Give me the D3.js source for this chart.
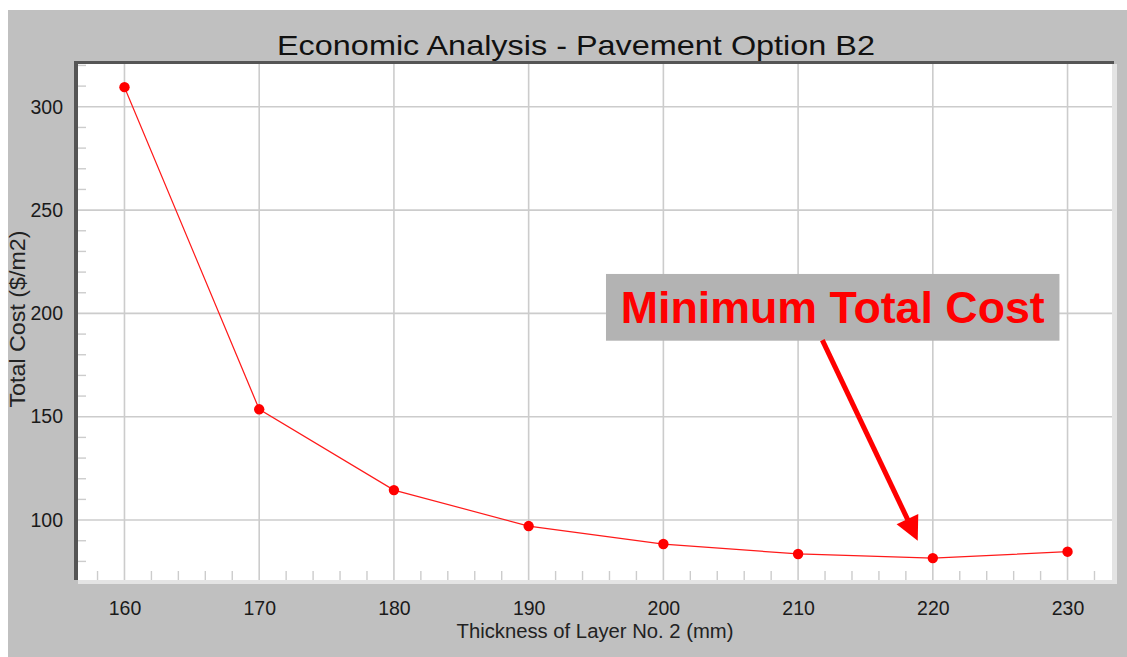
<!DOCTYPE html>
<html>
<head>
<meta charset="utf-8">
<script src="https://cdn.jsdelivr.net/npm/d3@7/dist/d3.min.js"></script>
<style>
html,body{margin:0;padding:0;background:#fff;}
svg{display:block;}
text{font-family:"Liberation Sans",Arial,sans-serif;}
</style>
</head>
<body>
<svg id="chart" width="1127" height="657"></svg>
<script>
// ---- data ----
const thickness = [160, 170, 180, 190, 200, 210, 220, 230];
const totalCost = [309.5, 153.6, 114.5, 97.1, 88.4, 83.6, 81.6, 84.7];
const xTicks = [160, 170, 180, 190, 200, 210, 220, 230];
const yTicks = [100, 150, 200, 250, 300];
const titleText = "Economic Analysis - Pavement Option B2";
const xLabel = "Thickness of Layer No. 2 (mm)";
const yLabel = "Total Cost ($/m2)";
const noteText = "Minimum Total Cost";
// annotation in data coordinates: box corners and arrow start / tip
const noteBox = [[195.74, 219.1], [229.4, 186.8]];
const arrowFrom = [211.8, 187.1];
const arrowTip = [218.88, 90.0];

const W = 1127, H = 657;
const plot = {l: 78, t: 64, r: 1112, b: 580};
const svg = d3.select("#chart");

const x = d3.scaleLinear().domain([156.55, 233.3]).range([plot.l, plot.r]);
const y = d3.scaleLinear().domain([71, 320.7]).range([plot.b, plot.t]);

// background panel
svg.append("rect").attr("x", 0).attr("y", 0).attr("width", W).attr("height", H).attr("fill", "#ffffff");
svg.append("rect").attr("x", 8).attr("y", 10).attr("width", W - 8).attr("height", H - 10).attr("fill", "#c0c0c0");

// plot frame: bevels
svg.append("rect").attr("x", plot.l).attr("y", plot.t).attr("width", plot.r - plot.l + 5).attr("height", plot.b - plot.t + 4).attr("fill", "#e4e4e4");
svg.append("rect").attr("x", plot.l - 4).attr("y", plot.t - 3).attr("width", plot.r - plot.l + 6).attr("height", 3).attr("fill", "#555555");
svg.append("rect").attr("x", plot.l - 4).attr("y", plot.t - 3).attr("width", 4).attr("height", plot.b - plot.t + 3).attr("fill", "#555555");
svg.append("rect").attr("x", plot.l).attr("y", plot.t).attr("width", plot.r - plot.l).attr("height", plot.b - plot.t).attr("fill", "#ffffff");

const gridColor = "#cccccc";
// grid lines
svg.append("g").selectAll("line").data(xTicks).join("line")
  .attr("x1", d => x(d)).attr("x2", d => x(d)).attr("y1", plot.t).attr("y2", plot.b)
  .attr("stroke", gridColor).attr("stroke-width", 1.6);
svg.append("g").selectAll("line").data(yTicks).join("line")
  .attr("x1", plot.l).attr("x2", plot.r).attr("y1", d => y(d)).attr("y2", d => y(d))
  .attr("stroke", gridColor).attr("stroke-width", 1.6);

// minor ticks
const xMinor = d3.range(158, 233, 2).filter(v => v % 10 !== 0);
const yMinor = d3.range(80, 321, 10).filter(v => v % 50 !== 0);
svg.append("g").selectAll("line").data(xMinor).join("line")
  .attr("x1", d => x(d)).attr("x2", d => x(d)).attr("y1", plot.b - 9).attr("y2", plot.b)
  .attr("stroke", gridColor).attr("stroke-width", 1.4);
svg.append("g").selectAll("line").data(yMinor).join("line")
  .attr("x1", plot.l).attr("x2", plot.l + 8).attr("y1", d => y(d)).attr("y2", d => y(d))
  .attr("stroke", gridColor).attr("stroke-width", 1.4);

// axes via d3 (labels only)
const xAxis = svg.append("g").attr("transform", `translate(0,${plot.b + 4})`)
  .call(d3.axisBottom(x).tickValues(xTicks).tickSize(0).tickPadding(17).tickFormat(d3.format("d")));
const yAxis = svg.append("g").attr("transform", `translate(${plot.l - 4},0)`)
  .call(d3.axisLeft(y).tickValues(yTicks).tickSize(0).tickPadding(11).tickFormat(d3.format("d")));
[xAxis, yAxis].forEach(a => {
  a.select(".domain").remove();
  a.selectAll("text").attr("fill", "#1a1a1a").style("font-size", "19.5px")
    .style("font-family", '"Liberation Sans", Arial, sans-serif');
});
xAxis.selectAll("text").attr("dy", "0.71em");

// series line + points
const line = d3.line().x((d, i) => x(thickness[i])).y(d => y(d));
svg.append("path").datum(totalCost).attr("d", line)
  .attr("fill", "none").attr("stroke", "#ff1a1a").attr("stroke-width", 1.2);
svg.append("g").selectAll("circle").data(totalCost).join("circle")
  .attr("cx", (d, i) => x(thickness[i])).attr("cy", d => y(d)).attr("r", 5.2)
  .attr("fill", "#ff0000");

// title and axis labels
svg.append("text").attr("x", 576).attr("y", 55).attr("text-anchor", "middle")
  .attr("textLength", 598).attr("lengthAdjust", "spacingAndGlyphs")
  .attr("fill", "#111").style("font-size", "28px").text(titleText);
svg.append("text").attr("x", 595).attr("y", 638).attr("text-anchor", "middle")
  .attr("textLength", 277).attr("lengthAdjust", "spacingAndGlyphs")
  .attr("fill", "#222").style("font-size", "20px").text(xLabel);
svg.append("text").attr("transform", "translate(25,319) rotate(-90)").attr("text-anchor", "middle")
  .attr("textLength", 177).attr("lengthAdjust", "spacingAndGlyphs")
  .attr("fill", "#222").style("font-size", "22.5px").text(yLabel);

// annotation box
const bx0 = x(noteBox[0][0]), by0 = y(noteBox[0][1]), bx1 = x(noteBox[1][0]), by1 = y(noteBox[1][1]);
svg.append("rect").attr("x", bx0).attr("y", by0).attr("width", bx1 - bx0).attr("height", by1 - by0).attr("fill", "#b3b3b3");
svg.append("text").attr("x", (bx0 + bx1) / 2).attr("y", by0 + 49).attr("text-anchor", "middle")
  .attr("textLength", 424).attr("lengthAdjust", "spacingAndGlyphs")
  .attr("fill", "#ff0000").style("font-size", "44px").style("font-weight", "bold").text(noteText);

// arrow
const ax0 = x(arrowFrom[0]), ay0 = y(arrowFrom[1]), ax1 = x(arrowTip[0]), ay1 = y(arrowTip[1]);
const dx = ax1 - ax0, dy = ay1 - ay0, len = Math.hypot(dx, dy);
const ux = dx / len, uy = dy / len, headL = 24, headW = 12;
const bmx = ax1 - ux * headL, bmy = ay1 - uy * headL;
svg.append("line").attr("x1", ax0).attr("y1", ay0).attr("x2", bmx + ux * 2).attr("y2", bmy + uy * 2)
  .attr("stroke", "#ff0000").attr("stroke-width", 5);
svg.append("path")
  .attr("d", `M${ax1},${ay1}L${bmx - uy * headW},${bmy + ux * headW}L${bmx + uy * headW},${bmy - ux * headW}Z`)
  .attr("fill", "#ff0000");
</script>
</body>
</html>
